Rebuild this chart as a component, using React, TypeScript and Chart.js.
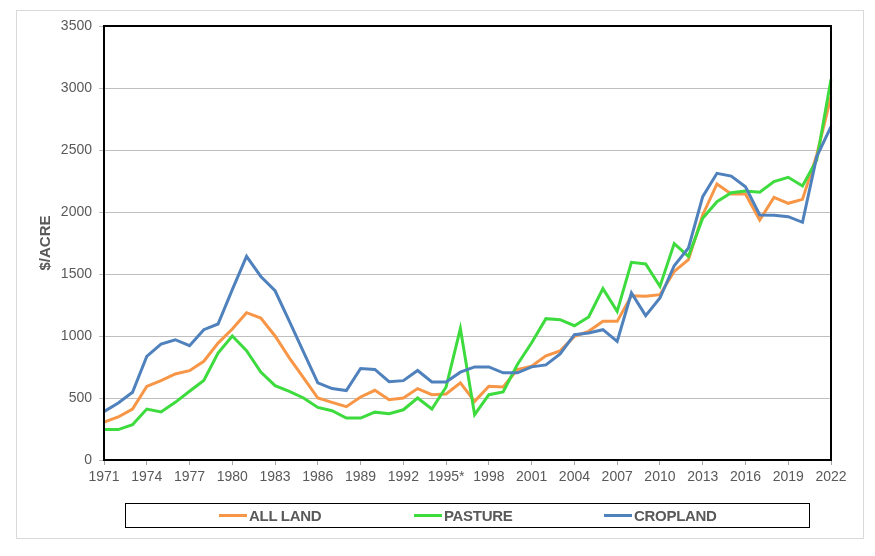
import React, { useEffect, useRef } from "react";
import { Chart, registerables } from "chart.js";

Chart.register(...registerables);

const categories = [
  "1971", "1972", "1973", "1974", "1975", "1976", "1977", "1978", "1979", "1980",
  "1981", "1982", "1983", "1984", "1985", "1986", "1987", "1988", "1989", "1990",
  "1991", "1992", "1993", "1994", "1995*", "1996", "1997", "1998", "1999", "2000",
  "2001", "2002", "2003", "2004", "2005", "2006", "2007", "2008", "2009", "2010",
  "2011", "2012", "2013", "2014", "2015", "2016", "2017", "2018", "2019", "2020",
  "2021", "2022",
];

const allLand = [
  306, 347, 411, 594, 640, 694, 720, 796, 943, 1056,
  1188, 1145, 1000, 824, 662, 500, 465, 430, 508, 562,
  486, 500, 576, 527, 532, 622, 473, 595, 589, 730,
  757, 840, 880, 997, 1038, 1118, 1118, 1325, 1320, 1333,
  1521, 1616, 1976, 2226, 2145, 2145, 1935, 2118, 2070, 2102,
  2460, 2930,
];

const pasture = [
  245, 245, 285, 411, 387, 465, 554, 642, 863, 1000,
  882, 710, 600, 554, 500, 424, 397, 338, 338, 386,
  373, 405, 500, 411, 589, 1060, 365, 527, 549, 770,
  946, 1140, 1132, 1083, 1153, 1382, 1199, 1594, 1581, 1400,
  1745, 1642, 1949, 2083, 2156, 2169, 2159, 2245, 2280, 2210,
  2420, 3070,
];

const cropland = [
  390, 460, 546, 836, 935, 970, 922, 1051, 1097, 1374,
  1642, 1480, 1365, 1120, 870, 622, 576, 560, 738, 730,
  632, 640, 722, 630, 630, 708, 751, 751, 703, 703,
  751, 767, 855, 1011, 1024, 1051, 957, 1347, 1164, 1306,
  1567, 1710, 2124, 2312, 2290, 2204, 1976, 1973, 1962, 1917,
  2447, 2689,
];

const seriesNames = ["ALL LAND", "PASTURE", "CROPLAND"];
const seriesColors = ["#F79646", "#3EDB3E", "#4F81BD"];

const yMin = 0;
const yMax = 3500;
const yStep = 500;

const framePlugin = {
  id: "frame",
  afterDraw(chart: any) {
    const { ctx, chartArea } = chart;
    const { left, top, right, bottom } = chartArea;
    ctx.save();
    ctx.strokeStyle = "#000000";
    ctx.lineWidth = 2;
    ctx.strokeRect(left, top, right - left, bottom - top);
    ctx.restore();
  },
};

export default function App() {
  const canvasRef = useRef<HTMLCanvasElement | null>(null);

  useEffect(() => {
    if (!canvasRef.current) return;
    const font = "'Liberation Sans', Arial, sans-serif";
    const chart = new Chart(canvasRef.current, {
      type: "line",
      data: {
        labels: categories,
        datasets: [
          { label: seriesNames[0], data: allLand, borderColor: seriesColors[0], order: 3 },
          { label: seriesNames[1], data: pasture, borderColor: seriesColors[1], order: 2 },
          { label: seriesNames[2], data: cropland, borderColor: seriesColors[2], order: 1 },
        ].map((d) => ({
          ...d,
          backgroundColor: d.borderColor,
          borderWidth: 3,
          pointRadius: 0,
          pointHoverRadius: 0,
          tension: 0,
          fill: false,
        })),
      },
      options: {
        responsive: false,
        animation: false,
        layout: { padding: { left: 0, right: 44, top: 26, bottom: 66 } },
        plugins: {
          legend: { display: false },
          tooltip: { enabled: false },
        },
        scales: {
          x: {
            type: "category",
            offset: false,
            afterFit: (s: any) => {
              s.height = 30;
            },
            border: { display: true, color: "#000000", width: 2 },
            grid: {
              drawOnChartArea: false,
              drawTicks: true,
              tickLength: 5,
              color: (ctx: any) => (ctx.index % 3 === 0 ? "#A6A6A6" : "rgba(0,0,0,0)"),
            },
            ticks: {
              autoSkip: false,
              maxRotation: 0,
              minRotation: 0,
              padding: 4,
              color: "#595959",
              font: { family: font, size: 14 },
              callback: (_v: any, i: number) => (i % 3 === 0 ? categories[i] : ""),
            },
          },
          y: {
            min: yMin,
            max: yMax,
            afterFit: (s: any) => {
              s.width = 104;
            },
            border: { display: true, color: "#000000", width: 2 },
            grid: {
              color: "#BFBFBF",
              lineWidth: 1,
              drawTicks: true,
              tickLength: 5,
            },
            ticks: {
              stepSize: yStep,
              padding: 7,
              color: "#595959",
              font: { family: font, size: 14 },
              callback: (v: any) => String(v),
            },
            title: {
              display: true,
              text: "$/ACRE",
              color: "#595959",
              font: { family: font, size: 15, weight: "bold" },
              padding: { top: 37, bottom: 0 },
            },
          },
        },
      },
      plugins: [framePlugin],
    } as any);
    return () => chart.destroy();
  }, []);

  const legendFont = "'Liberation Sans', Arial, sans-serif";
  const legendItems = [
    { name: seriesNames[0], color: seriesColors[0], x: 219 },
    { name: seriesNames[1], color: seriesColors[1], x: 414 },
    { name: seriesNames[2], color: seriesColors[2], x: 604 },
  ];

  return (
    <div style={{ position: "absolute", left: 0, top: 0, width: 875, height: 556, background: "#fff" }}>
      <canvas ref={canvasRef} width={875} height={556} style={{ position: "absolute", left: 0, top: 0 }} />
      <div
        style={{
          position: "absolute",
          left: 16,
          top: 10,
          width: 846,
          height: 527,
          border: "1px solid #D9D9D9",
          pointerEvents: "none",
        }}
      />
      <div
        style={{
          position: "absolute",
          left: 125,
          top: 503,
          width: 683,
          height: 23,
          border: "1px solid #000",
        }}
      >
        {legendItems.map((it) => (
          <div
            key={it.name}
            style={{
              position: "absolute",
              left: it.x - 126,
              top: 0,
              height: 23,
              display: "flex",
              alignItems: "center",
            }}
          >
            <span style={{ display: "inline-block", width: 28, height: 3, background: it.color, marginRight: 2 }} />
            <span
              style={{
                fontFamily: legendFont,
                fontWeight: "bold",
                fontSize: 15,
                color: "#595959",
                whiteSpace: "nowrap",
                letterSpacing: -0.3,
              }}
            >
              {it.name}
            </span>
          </div>
        ))}
      </div>
    </div>
  );
}
